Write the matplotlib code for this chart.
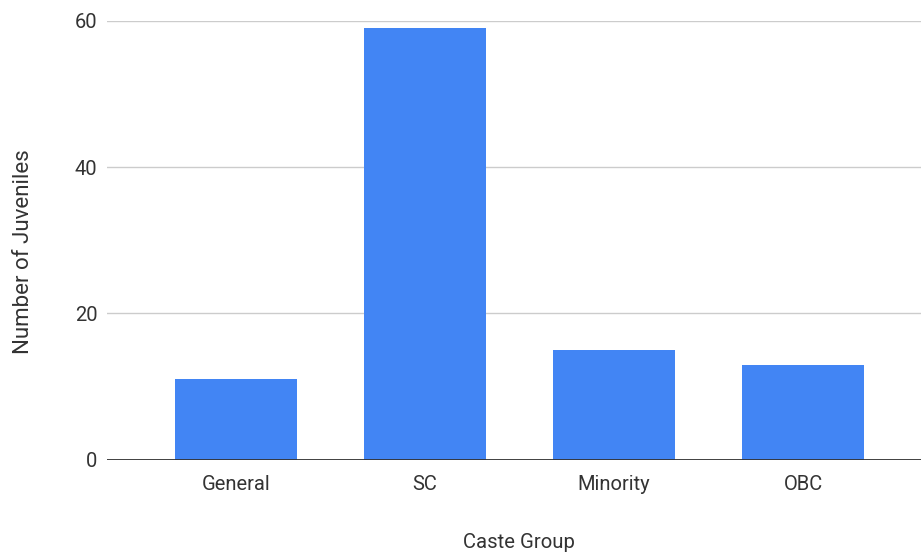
import matplotlib.pyplot as plt

plt.rcParams['font.family'] = ['Roboto', 'DejaVu Sans']

categories = ['General', 'SC', 'Minority', 'OBC']
juveniles = [11, 59, 15, 13]
y_ticks = [0, 20, 40, 60]

BAR_COLOR = '#4285F4'
TEXT_COLOR = '#333333'

fig = plt.figure(figsize=(9.21, 5.56), dpi=100)
ax = fig.add_axes([0.1162, 0.1727, 0.8838, 0.7904])

x = list(range(len(categories)))
ax.bar(x, juveniles, width=0.646, color=BAR_COLOR, zorder=3)

ax.set_xlim(-0.683, 3.624)
ax.set_ylim(0, 60)
ax.set_yticks(y_ticks)
ax.set_xticks(x)
ax.set_xticklabels(categories)

# сетка только по горизонтали, ось нуля темнее
ax.grid(axis='y', color='#cccccc', linewidth=1.0, zorder=0)
ax.axhline(0, color='#333333', linewidth=1.3, zorder=4)
for side in ['top', 'right', 'left', 'bottom']:
    ax.spines[side].set_visible(False)
ax.tick_params(axis='both', length=0, labelsize=14.5, colors=TEXT_COLOR)
ax.tick_params(axis='x', pad=10.5)
ax.tick_params(axis='y', pad=7)

# подписи осей ставим вручную
fig.text(519 / 921, 1 - 542 / 556, 'Caste Group', fontsize=14.6,
         color=TEXT_COLOR, ha='center', va='center')
fig.text(24 / 921, 1 - 252 / 556, 'Number of Juveniles', fontsize=16,
         color=TEXT_COLOR, ha='center', va='center', rotation=90)

fig.savefig('out.png', dpi=100)
